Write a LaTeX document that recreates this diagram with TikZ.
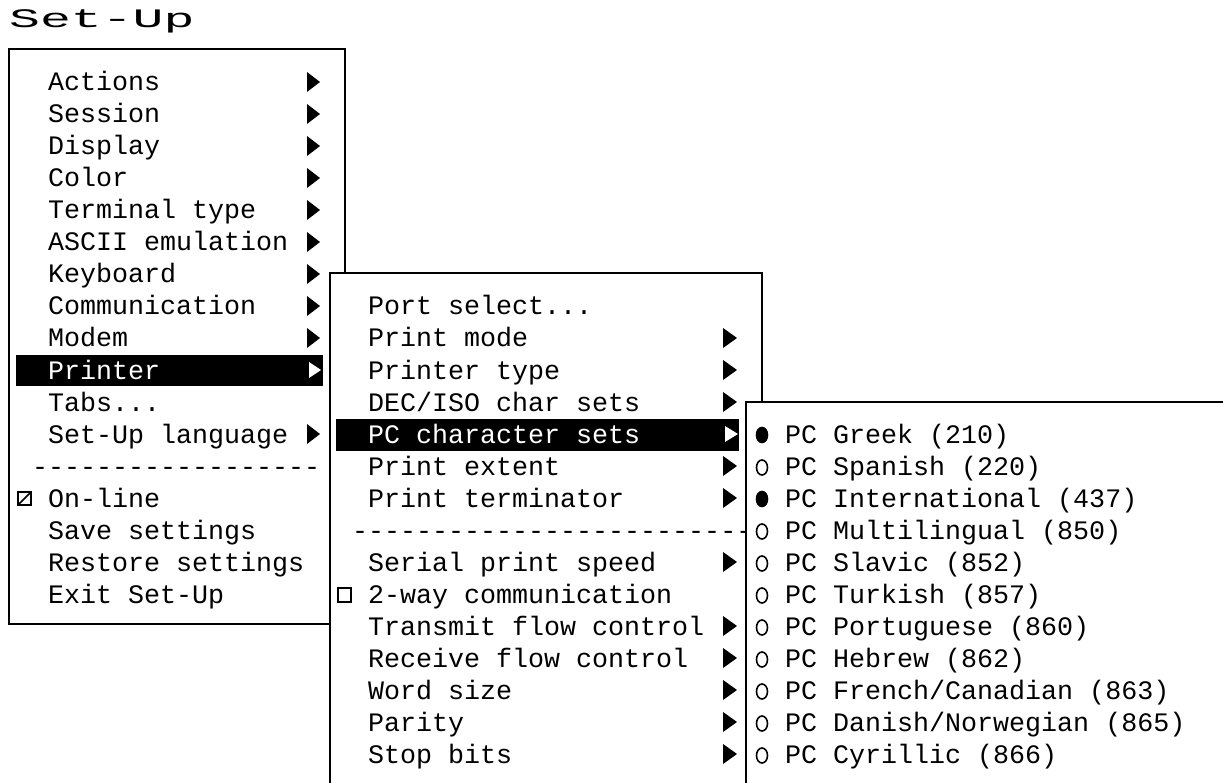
\documentclass[tikz,border=0pt]{standalone}
\usepackage{fontspec}
\usepackage{graphicx}
\setmonofont{Liberation Mono}
\usepackage{tikz}
\usetikzlibrary{shapes}

\begin{document}
\begin{tikzpicture}[
			x=1pt, y=-1pt,
			menubox/.style = {draw, fill=white, line width=2pt},
			hilite/.style = {fill=black},
			item/.style = {anchor=base west, inner sep=0pt,
				font=\ttfamily\fontsize{26.67}{32}\selectfont},
			itemsel/.style = {item, text=white},
			radio/.style = {shape=ellipse, draw, line width=1.6pt,
				minimum width=11, minimum height=15, inner sep=0pt},
			radioset/.style = {radio, fill=black},
			checkbox/.style = {draw, line width=1.5pt}]
			\useasboundingbox (0,0) rectangle (1223,783);
			\clip (0,0) rectangle (1223,783);
			\node[item] (title) at (9,28) {\scalebox{1.93}[1]{Set-Up}};
			
			\draw[menubox] (9,49) rectangle (345,624);
			\fill[hilite] (16,355) rectangle (323,386);
			\node[item] (actions) at (48,91) {Actions};
			\node[item] (session) at (48,123) {Session};
			\node[item] (display) at (48,155) {Display};
			\node[item] (color) at (48,187) {Color};
			\node[item] (termtype) at (48,219) {Terminal type};
			\node[item] (ascii) at (48,251) {ASCII emulation};
			\node[item] (keyboard) at (48,283) {Keyboard};
			\node[item] (comm) at (48,315) {Communication};
			\node[item] (modem) at (48,347) {Modem};
			\node[itemsel] (printer) at (48,379) {Printer};
			\node[item] (tabs) at (48,411) {Tabs...};
			\node[item] (language) at (48,443) {Set-Up language};
			\node[item] (sep1) at (32,475) {------------------};
			\node[item] (online) at (48,507) {On-line};
			\node[item] (save) at (48,539) {Save settings};
			\node[item] (restore) at (48,571) {Restore settings};
			\node[item] (exit) at (48,603) {Exit Set-Up};
			\draw[checkbox] (18,492) rectangle (31,505);
			\draw[checkbox] (18,505) -- (31,492);
			\foreach \k in {0,...,8,11}
				\fill[shift={(0,32*\k)}] (307,72) -- (320,82) -- (307,92) -- cycle;
			\fill[white, shift={(0,288)}] (309,74) -- (321,82) -- (309,90) -- cycle;
			
			\draw[menubox] (330,273) rectangle (762,800);
			\fill[hilite] (336,419) rectangle (739,451);
			\node[item] (portsel) at (368,315) {Port select...};
			\node[item] (printmode) at (368,347) {Print mode};
			\node[item] (printertype) at (368,379) {Printer type};
			\node[item] (decsets) at (368,411) {DEC/ISO char sets};
			\node[itemsel] (pcsets) at (368,443) {PC character sets};
			\node[item] (extent) at (368,475) {Print extent};
			\node[item] (terminator) at (368,507) {Print terminator};
			\node[item] (sep2) at (352,539) {-------------------------};
			\node[item] (speed) at (368,571) {Serial print speed};
			\node[item] (twoway) at (368,603) {2-way communication};
			\node[item] (txflow) at (368,635) {Transmit flow control};
			\node[item] (rxflow) at (368,667) {Receive flow control};
			\node[item] (wordsize) at (368,699) {Word size};
			\node[item] (parity) at (368,731) {Parity};
			\node[item] (stopbits) at (368,763) {Stop bits};
			\draw[checkbox] (338,588) rectangle (351,602);
			\foreach \k in {8,9,10,12,13,15,17,18,19,20,21}
				\fill[shift={(0,32*\k)}] (723,72) -- (737,82) -- (723,92) -- cycle;
			\fill[white, shift={(0,352)}] (725,74) -- (738,82) -- (725,90) -- cycle;
			
			\draw[menubox] (746,402) rectangle (1240,800);
			\node[item] (greek) at (785,443) {PC Greek (210)};
			\node[item] (spanish) at (785,475) {PC Spanish (220)};
			\node[item] (intl) at (785,507) {PC International (437)};
			\node[item] (multi) at (785,539) {PC Multilingual (850)};
			\node[item] (slavic) at (785,571) {PC Slavic (852)};
			\node[item] (turkish) at (785,603) {PC Turkish (857)};
			\node[item] (portuguese) at (785,635) {PC Portuguese (860)};
			\node[item] (hebrew) at (785,667) {PC Hebrew (862)};
			\node[item] (french) at (785,699) {PC French/Canadian (863)};
			\node[item] (danish) at (785,731) {PC Danish/Norwegian (865)};
			\node[item] (cyrillic) at (785,763) {PC Cyrillic (866)};
			\node[radioset] (rgreek) at (762,435) {};
			\node[radioset] (rintl) at (762,499) {};
			\foreach \k in {12,14,15,16,17,18,19,20,21}
				\node[radio] (r\k) at (762,{83.5+32*\k}) {};
			\end{tikzpicture}
\end{document}
